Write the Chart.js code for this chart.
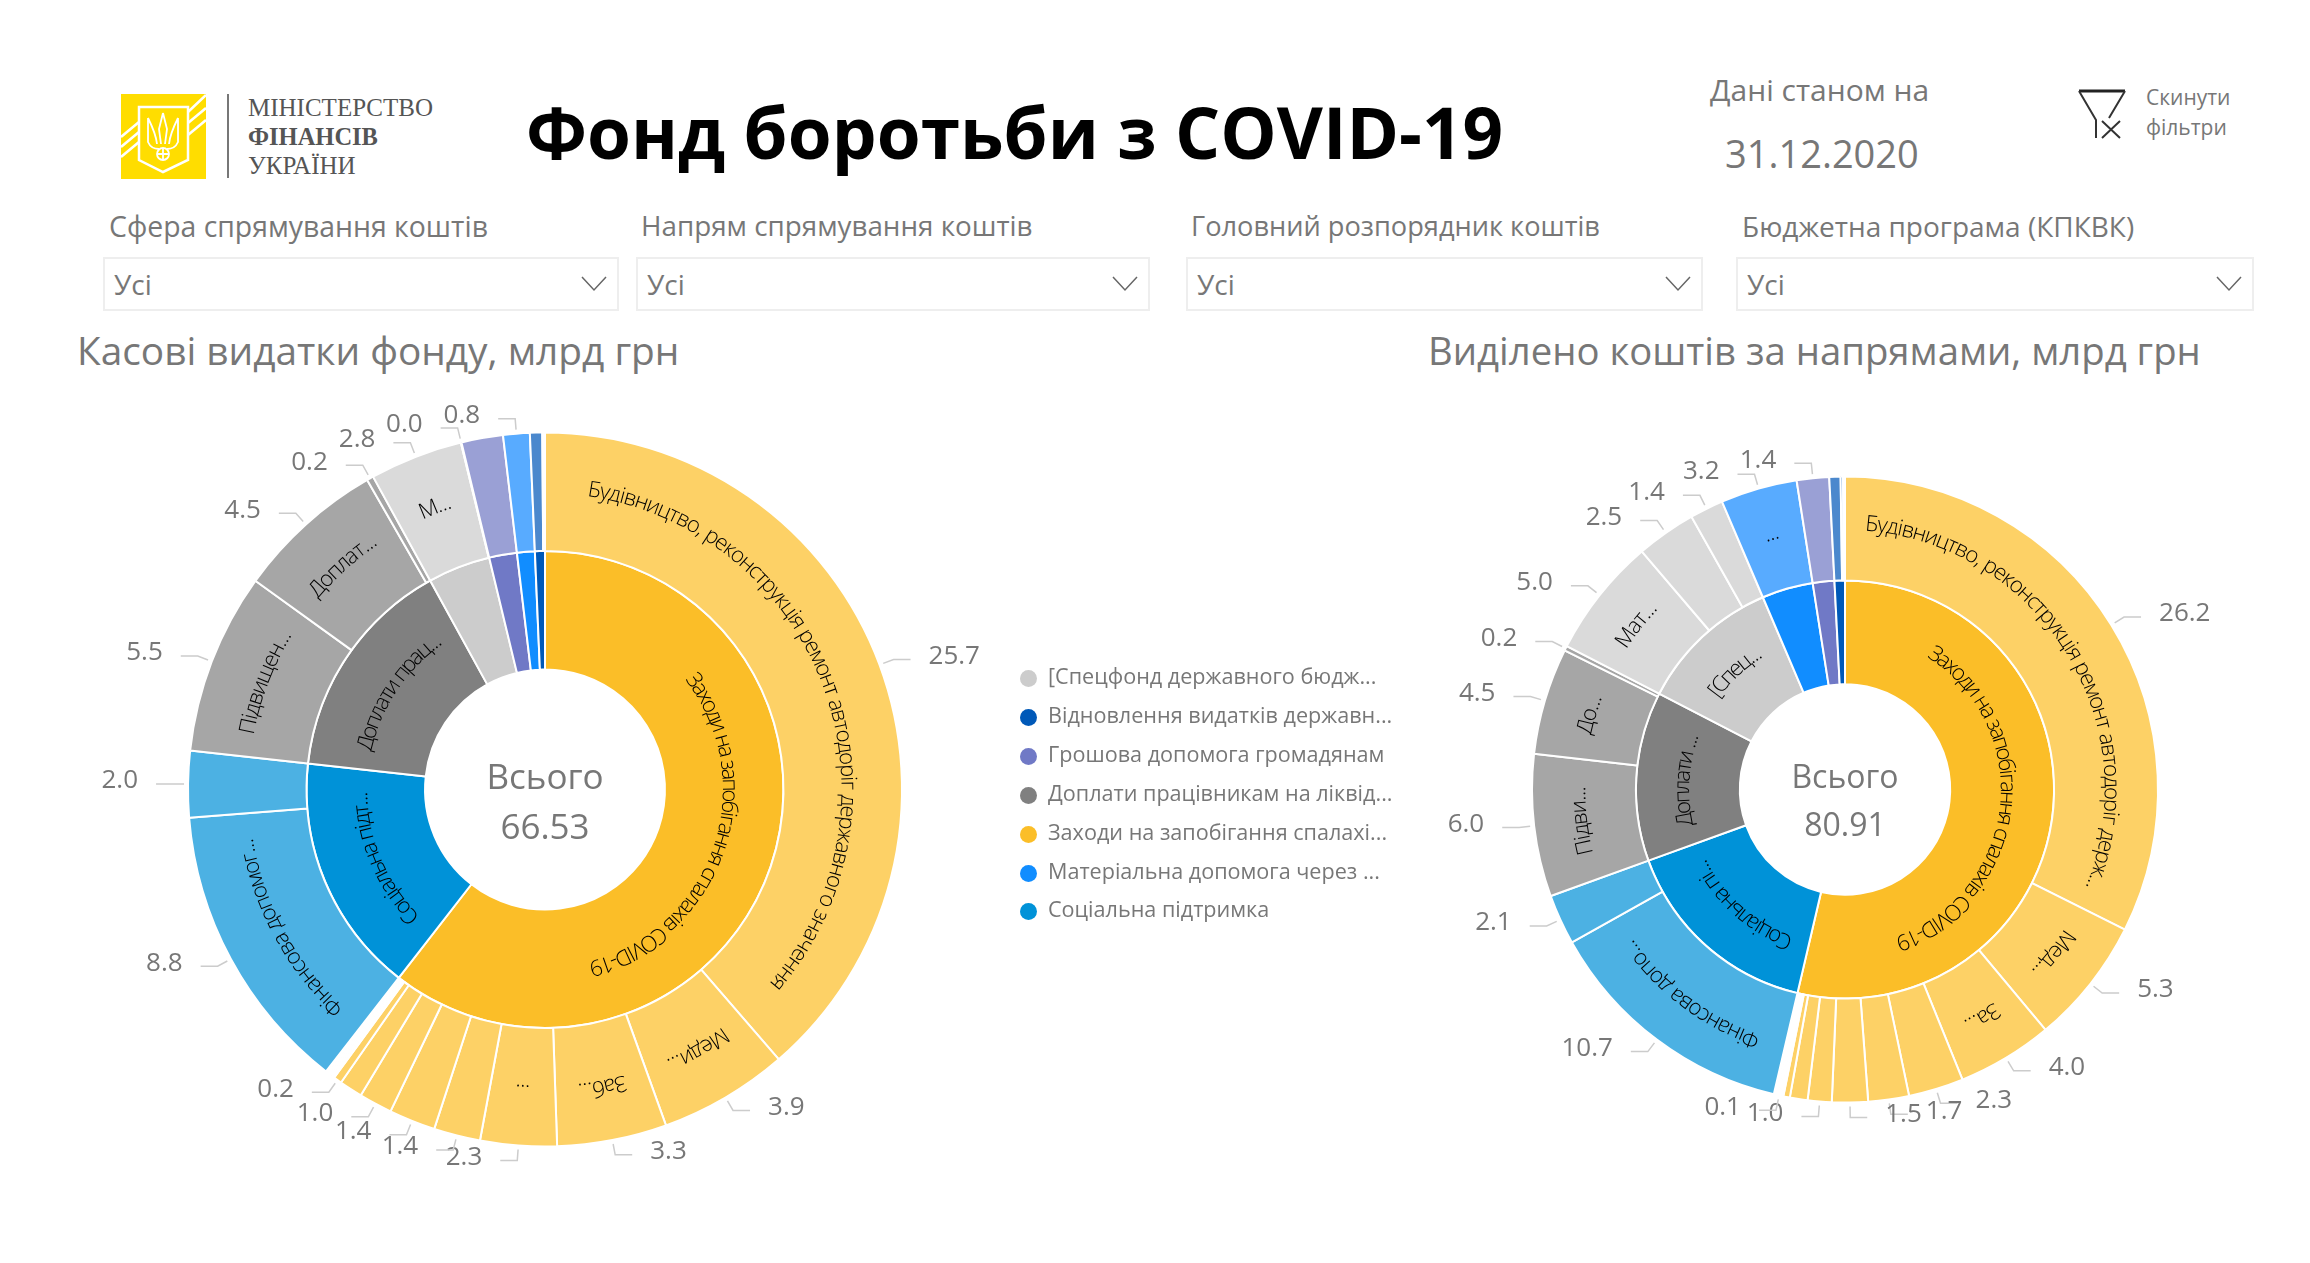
<!DOCTYPE html>
<html>
<head>
<meta charset="utf-8">
<script src="https://cdn.jsdelivr.net/npm/chart.js@4"></script>
<style>
body { margin:0; background:#fff; width:2310px; height:1263px; overflow:hidden; font-family:"Open Sans",sans-serif; color:#777; }
.t { position:absolute; white-space:nowrap; line-height:1; }
.box { position:absolute; top:257px; height:50px; border:2px solid #eee; }
.box span { position:absolute; left:9px; top:11px; font-size:28px; line-height:1; color:#777; }
.box svg { position:absolute; right:9px; top:17px; }
canvas { position:absolute; }
.dot { position:absolute; left:1020px; width:17px; height:17px; border-radius:50%; }
</style>
</head>
<body>

<svg style="position:absolute;left:121px;top:94px" width="85" height="85" viewBox="0 0 85 85">
  <rect width="85" height="85" fill="#ffdd00"/>
  <g stroke="#fff" stroke-width="2.5" fill="none">
    <path d="M0 43L18 28M0 53L18 38M0 63L18 48"/>
    <path d="M67 18L85 1M67 29L85 14M67 41L85 26"/>
    <path d="M18 13H67V66L42 78L18 66Z"/>
  </g>
  <g stroke="#fff" stroke-width="1.8" fill="none">
    <path d="M42 19L38 35L40 50M42 19L46 35L44 50M27 24V48Q30 55 38 55M57 24V48Q54 55 46 55M27 24Q35 40 36 50M57 24Q49 40 48 50"/>
    <circle cx="42" cy="60" r="6"/>
    <path d="M36 60H48M42 54V66"/>
  </g>
</svg>
<div style="position:absolute;left:227px;top:94px;width:2px;height:84px;background:#777"></div>
<div class="t" style="left:248px;top:94px;font:25px 'Liberation Serif';color:#555">МІНІСТЕРСТВО</div>
<div class="t" style="left:248px;top:123px;font:bold 24.5px 'Liberation Serif';color:#555">ФІНАНСІВ</div>
<div class="t" style="left:248px;top:152px;font:25px 'Liberation Serif';color:#555">УКРАЇНИ</div>

<div class="t" style="left:526px;top:96px;font-size:71px;font-weight:700;color:#000">Фонд боротьби з COVID-19</div>
<div class="t" style="left:1710px;top:75px;font-size:30px">Дані станом на</div>
<div class="t" style="left:1725px;top:134px;font-size:38px">31.12.2020</div>

<svg style="position:absolute;left:2076px;top:88px" width="54" height="54" viewBox="0 0 54 54">
  <path d="M3 3H49" stroke="#222" stroke-width="3"/>
  <path d="M3 3L20 32V50M49 3L33 30" stroke="#333" stroke-width="2" fill="none"/>
  <path d="M26 33L44 50M44 33L26 50" stroke="#333" stroke-width="2"/>
</svg>
<div class="t" style="left:2146px;top:87px;font-size:21px">Скинути</div>
<div class="t" style="left:2146px;top:117px;font-size:21px">фільтри</div>

<div class="t" style="left:109px;top:212px;font-size:28.4px">Сфера спрямування коштів</div>
<div class="t" style="left:641px;top:212px;font-size:27.8px">Напрям спрямування коштів</div>
<div class="t" style="left:1191px;top:212px;font-size:27.2px">Головний розпорядник коштів</div>
<div class="t" style="left:1742px;top:212px;font-size:28px">Бюджетна програма (КПКВК)</div>

<div id="slicers"></div>

<div class="t" style="left:77px;top:331px;font-size:38.8px">Касові видатки фонду, млрд грн</div>
<div class="t" style="left:1428px;top:331px;font-size:38.3px">Виділено коштів за напрямами, млрд грн</div>

<canvas id="kasovi" style="left:45px;top:390px"></canvas>
<canvas id="vydileno" style="left:1345px;top:390px"></canvas>

<div id="legend"></div>

<script>
// категорії легенди
var legendLabels = ['[Спецфонд державного бюдж...','Відновлення видатків державн...','Грошова допомога громадянам','Доплати працівникам на ліквід...','Заходи на запобігання спалахі...','Матеріальна допомога через ...','Соціальна підтримка']
var legendOrder = [3,6,4,2,0,5,1]

// групи: 0 заходи, 1 соцпідтримка, 2 доплати, 3 спецфонд, 4 грошова, 5 матеріальна, 6 відновлення
var groupColors = ['#fbbe28','#0092d8','#808080','#cccccc','#7079c6','#118dff','#0059b8']
var groupTints = ['#fdd166','#4cb1e3','#a6a6a6','#dadada','#9aa0d5','#58abff','#4b88cd']

// Касові видатки
var kasoviOuter = [25.7,3.9,3.3,2.3,1.4,1.4,1.0,0.7,0.25,0.05,0.05,0.05,0.05,0.05,0.05,8.8,2.0,5.45,4.5,0.2,2.8,0.02,1.25,0.8,0.37,0.05,0.03]
var kasoviOuterGroup = [0,0,0,0,0,0,0,0,0,0,0,0,0,0,0,1,1,2,2,2,3,3,4,5,6,6,5]
var kasoviOuterLabels = ['25.7','3.9','3.3','2.3','1.4','1.4','1.0',null,'0.2',null,null,null,null,null,null,'8.8','2.0','5.5','4.5','0.2','2.8','0.0',null,'0.8',null,null,null]
var kasoviOuterText = ['Будівництво, реконструкція ремонт автодоріг державного значення','Меди...','Заб...','...','','','','','','','','','','','','Фінансова допомог...','','Підвищен...','Доплат...','','М...','','','','','','']
var kasoviInner = [40.25,10.8,10.15,2.82,1.25,0.8,0.45]
var kasoviInnerGroup = [0,1,2,3,4,5,6]
var kasoviInnerText = ['Заходи на запобігання спалахів COVID-19','Соціальна підт...','Доплати прац...','','','','']
var kasoviTotal = '66.53'

// Виділено коштів
var vydilenoOuter = [26.2,5.3,4.0,2.3,1.7,1.5,1.0,0.74,0.27,0.05,0.05,0.05,0.05,0.05,0.05,0.05,0.05,10.7,2.1,5.95,4.45,0.2,5.0,2.5,1.4,3.2,1.35,0.47,0.1,0.08]
var vydilenoOuterGroup = [0,0,0,0,0,0,0,0,0,0,0,0,0,0,0,0,0,1,1,2,2,2,3,3,3,5,4,6,6,5]
var vydilenoOuterLabels = ['26.2','5.3','4.0','2.3','1.7','1.5','1.0',null,null,null,null,null,'0.1',null,null,null,null,'10.7','2.1','6.0','4.5','0.2','5.0','2.5','1.4','3.2','1.4',null,null,null]
var vydilenoOuterText = ['Будівництво, реконструкція ремонт автодоріг держ...','Мед...','За...','','','','','','','','','','','','','','','Фінансова допо...','','Підви...','До...','','Мат...','','','...','','','','']
var vydilenoInner = [43.41,12.8,10.6,8.9,3.2,1.35,0.65]
var vydilenoInnerGroup = [0,1,2,3,5,4,6]
var vydilenoInnerText = ['Заходи на запобігання спалахів COVID-19','Соціальна пі...','Доплати ...','[Спец...','','','']
var vydilenoTotal = '80.91'

var labelFont = '"Open Sans"'

function curvedText(ctx, text, arc, r, tight) {
    var mid = (arc.startAngle + arc.endAngle) / 2
    var widths = []
    var total = 0
    for (var i = 0; i < text.length; i++) {
        widths.push(ctx.measureText(text[i]).width * tight)
        total += widths[i]
    }
    var a = mid - total / 2 / r
    for (var j = 0; j < text.length; j++) {
        var step = widths[j] / r
        a += step / 2
        ctx.save()
        ctx.translate(arc.x + r * Math.cos(a), arc.y + r * Math.sin(a))
        ctx.rotate(a + Math.PI / 2)
        ctx.fillText(text[j], 0, 0)
        ctx.restore()
        a += step / 2
    }
}

// підписи всередині кілець, виноски і "Всього" в центрі
var sunburstPlugin = {
    id: 'sunburst',
    afterDatasetsDraw: function (chart, args, opts) {
        var ctx = chart.ctx
        ctx.save()
        ctx.textAlign = 'center'
        ctx.textBaseline = 'middle'
        ctx.fillStyle = '#000'
        ctx.font = '300 ' + opts.ringSize + 'px ' + labelFont
        opts.ringText.forEach(function (texts, ds) {
            chart.getDatasetMeta(ds).data.forEach(function (arc, i) {
                if (texts[i]) curvedText(ctx, texts[i], arc, (arc.innerRadius + arc.outerRadius) / 2 + 5, ds == 0 ? 0.92 : 0.85)
            })
        })

        chart.getDatasetMeta(0).data.forEach(function (arc, i) {
            var text = opts.valueLabels[i]
            if (!text) return
            var a = (arc.startAngle + arc.endAngle) / 2
            var cos = Math.cos(a)
            var sin = Math.sin(a)
            var side = cos >= 0 ? 1 : -1
            var ex = arc.x + (arc.outerRadius + 15) * cos
            var ey = arc.y + (arc.outerRadius + 15) * sin
            ctx.strokeStyle = '#cccccc'
            ctx.lineWidth = 1.5
            ctx.beginPath()
            ctx.moveTo(arc.x + (arc.outerRadius + 4) * cos, arc.y + (arc.outerRadius + 4) * sin)
            ctx.lineTo(ex, ey)
            ctx.lineTo(ex + side * 17, ey)
            ctx.stroke()
            ctx.fillStyle = '#777'
            ctx.font = '26px ' + labelFont
            ctx.textAlign = side > 0 ? 'left' : 'right'
            ctx.fillText(text, ex + side * 35, ey - 3)
        })

        var c = chart.getDatasetMeta(0).data[0]
        ctx.textAlign = 'center'
        ctx.fillStyle = '#777'
        ctx.font = opts.centreSize + 'px ' + labelFont
        ctx.fillText('Всього', c.x, c.y + opts.centreTop)
        ctx.fillText(opts.total, c.x, c.y + opts.centreBottom)
        ctx.restore()
    }
}

function colors(groups, palette) {
    return groups.map(function (g) { return palette[g] })
}

function sunburst(id, size, radius, cutout, outer, outerGroup, inner, innerGroup, plugin) {
    var el = document.getElementById(id)
    el.width = size[0]
    el.height = size[1]
    return new Chart(el, {
        type: 'doughnut',
        data: {
            datasets: [
                { data: outer, backgroundColor: colors(outerGroup, groupTints), borderColor: '#fff', borderWidth: 2 },
                { data: inner, backgroundColor: colors(innerGroup, groupColors), borderColor: '#fff', borderWidth: 2 }
            ]
        },
        options: {
            responsive: false,
            animation: false,
            radius: radius,
            cutout: cutout,
            events: [],
            plugins: { legend: { display: false }, tooltip: { enabled: false }, sunburst: plugin }
        },
        plugins: [sunburstPlugin]
    })
}

function drawAll() {
    sunburst('kasovi', [1000, 799], 357, '33.6%', kasoviOuter, kasoviOuterGroup, kasoviInner, kasoviInnerGroup, {
        ringText: [kasoviOuterText, kasoviInnerText], valueLabels: kasoviOuterLabels,
        total: kasoviTotal, ringSize: 22, centreSize: 35, centreTop: -10, centreBottom: 40
    })
    sunburst('vydileno', [1000, 799], 313, '33.6%', vydilenoOuter, vydilenoOuterGroup, vydilenoInner, vydilenoInnerGroup, {
        ringText: [vydilenoOuterText, vydilenoInnerText], valueLabels: vydilenoOuterLabels,
        total: vydilenoTotal, ringSize: 22, centreSize: 32, centreTop: -11, centreBottom: 37
    })
}

var slicerLeft = [103, 636, 1186, 1736]
var slicerWidth = [512, 510, 513, 514]
var slicersHtml = ''
slicerLeft.forEach(function (x, i) {
    slicersHtml += '<div class="box" style="left:' + x + 'px;width:' + slicerWidth[i] + 'px"><span>Усі</span>' +
        '<svg width="28" height="16"><path d="M2 1L14 14L26 1" fill="none" stroke="#666" stroke-width="1.5"/></svg></div>'
})
document.getElementById('slicers').innerHTML = slicersHtml

var legendHtml = ''
legendLabels.forEach(function (label, i) {
    var y = 678.5 + i * 38.9
    legendHtml += '<div class="dot" style="top:' + (y - 8.5) + 'px;background:' + groupColors[legendOrder[i]] + '"></div>' +
        '<div class="t" style="left:1048px;top:' + (y - 13.5) + 'px;font-size:21.6px">' + label + '</div>'
})
document.getElementById('legend').innerHTML = legendHtml

document.fonts.load('26px "Open Sans"').then(drawAll, drawAll)
</script>
</body>
</html>
